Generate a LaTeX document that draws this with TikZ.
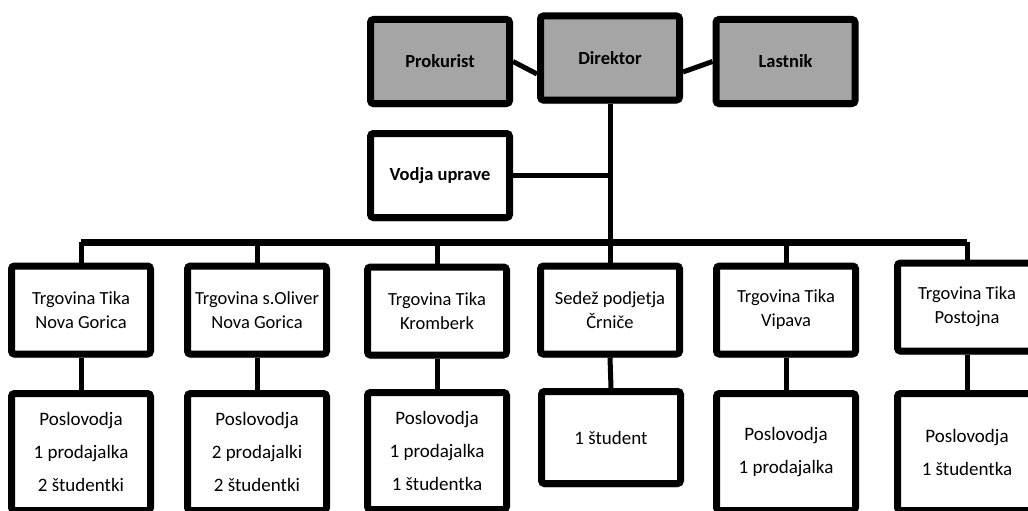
\documentclass[tikz,border=0pt]{standalone}
\usepackage{fontspec}
\setmainfont{Carlito}
\usetikzlibrary{shadows}
\definecolor{topgray}{RGB}{165,165,165}
\begin{document}
\begin{tikzpicture}[x=1pt,y=-1pt,
  box/.style={draw, line width=7pt, rounded corners=3pt, fill=white, align=center, inner sep=0pt,
    minimum width=139pt,
    drop shadow={shadow xshift=-1pt, shadow yshift=-4pt, fill=black!40, opacity=0.5}},
  topbox/.style={box, fill=topgray, minimum height=84pt, font=\fontsize{18.5}{22}\selectfont\bfseries},
  midbox/.style={box, minimum height=88pt, font=\fontsize{18.5}{24}\selectfont},
  lowbox/.style={box, minimum height=117pt, font=\fontsize{19}{33}\selectfont},
  conn/.style={line width=5pt},
  bus/.style={line width=7pt}]
\useasboundingbox (0,0) rectangle (1028,511);
\clip (0,0) rectangle (1028,511);
% top
\node[topbox] (prok) at (440,61.5) {Prokurist};
\node[topbox] (dir) at (610,58) {Direktor};
\node[topbox] (last) at (785.5,61.5) {Lastnik};
\node[topbox, fill=white] (vod) at (440,175.5) {Vodja uprave};
% middle row
\node[midbox] (c1) at (81,310) {Trgovina Tika\\Nova Gorica};
\node[midbox] (c2) at (257,310) {Trgovina s.Oliver\\Nova Gorica};
\node[midbox] (c3) at (437,311) {Trgovina Tika\\Kromberk};
\node[midbox] (c4) at (610,310) {Sedež podjetja\\Črniče};
\node[midbox] (c5) at (786,310) {Trgovina Tika\\Vipava};
\node[midbox] (c6) at (967,307) {Trgovina Tika\\Postojna};
% bottom row
\node[lowbox] (b1) at (81,452) {Poslovodja\\1 prodajalka\\2 študentki};
\node[lowbox] (b2) at (257,452) {Poslovodja\\2 prodajalki\\2 študentki};
\node[lowbox] (b3) at (437,451) {Poslovodja\\1 prodajalka\\1 študentka};
\node[lowbox, minimum height=92pt] (b4) at (611,437.5) {1 študent};
\node[lowbox] (b5) at (786,452) {Poslovodja\\1 prodajalka};
\node[lowbox] (b6) at (967,452) {Poslovodja\\1 študentka};
% connectors
\coordinate (busy) at (0,242);
\draw[conn] (prok.east) -- ([yshift=-16pt]dir.west);
\draw[conn] (last.west) -- ([yshift=-14pt]dir.east);
\draw[conn] (dir.south) -- (dir.south |- busy);
\draw[conn] (vod.east) -- (vod.east -| dir.south);
\draw[bus] (c1.north |- busy) -- (c6.north |- busy);
\foreach \i in {1,...,6}{
  \draw[conn] (c\i.north) -- (c\i.north |- busy);
  \draw[conn] (c\i.south) -- (b\i.north);
}
\end{tikzpicture}
\end{document}
